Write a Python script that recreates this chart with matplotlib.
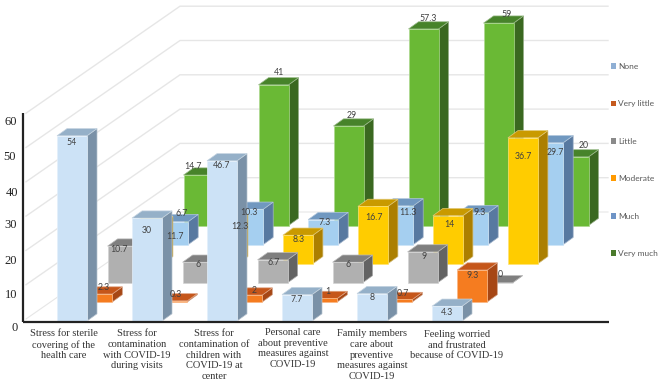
"""Oblique 3D-style clustered bars of stress responses, drawn on a pixel-sized 2D axes."""
import matplotlib
matplotlib.use("Agg")
import matplotlib.pyplot as plt
from matplotlib.colors import to_rgb
from matplotlib.patches import Patch

# -- data ---------------------------------------------------------------
categories = [
    "Stress for sterile\ncovering of the\nhealth care",
    "Stress for\ncontamination\nwith COVID-19\nduring visits",
    "Stress for\ncontamination of\nchildren with\nCOVID-19 at\ncenter",
    "Personal care\nabout preventive\nmeasures against\nCOVID-19",
    "Family members\ncare about\npreventive\nmeasures against\nCOVID-19",
    "Feeling worried\nand frustrated\nbecause of COVID-19",
]
series_names = ["None", "Very little", "Little", "Moderate", "Much", "Very much"]
none = [54, 30, 46.7, 7.7, 8, 4.3]
very_little = [2.3, 0.3, 2, 1, 0.7, 9.3]
little = [10.7, 6, 6.7, 6, 9, 0]
moderate = [11.7, 12.3, 8.3, 16.7, 14, 36.7]
much = [6.7, 10.3, 7.3, 11.3, 9.3, 29.7]
very_much = [14.7, 41, 29, 57.3, 59, 20]
series = [none, very_little, little, moderate, much, very_much]
y_ticks = [0, 10, 20, 30, 40, 50, 60]

# -- styling ------------------------------------------------------------
# (front, top, side) per series
shades = [
    ("#cce2f6", "#95b0c8", "#7a91a7"),
    ("#f57c20", "#c5561a", "#a64715"),
    ("#b0b0b0", "#7f7f7f", "#636363"),
    ("#ffcc00", "#c99a00", "#ac7f00"),
    ("#a5cff0", "#7098c0", "#5879a0"),
    ("#6ab935", "#47832a", "#3a6820"),
]
legend_colors = ["#8fafd4", "#c55a1e", "#8a8a8a", "#ff9a00", "#6e94c6", "#4a7a2c"]
SERIF = "Liberation Serif"
LABEL_GRAY = "#404040"

# hand-moved data labels: (dx, dy) from the top centre of each front face
label_nudge = [
    [(0, 7), (0, 12), (0, 5), (0, 5), (0, 4), (0, 6)],
    [(6, -7), (4, -6), (7, -5), (5, -7), (6, -6), (0, 5)],
    [(-4, 3), (0, 2), (1, 3), (0, 2), (1, 5), (3, -8)],
    [(27, 13), (17, 5), (1, 4), (1, 11), (1, 9), (0, 19)],
    [(8, -8), (1, 3), (1, 3), (10, 7), (6, 0), (7, 10)],
    [(-6, -9), (5, -12), (3, -11), (5, -10), (8, -9), (10, -11)],
]
tick_nudge = [(15, 328), (11, 295), (11, 261), (11, 225), (12, 193), (10, 157), (11, 122)]
cat_label_x = [64, 137, 214, 293, 372, 457]
cat_label_y = [329, 329, 329, 328, 329, 330]

# -- projection (pixels) ------------------------------------------------
X0, Y0 = 23, 321        # front-left floor corner
CAT_STEP = 75
CAT_START = 34          # first bar, from X0
BAR_W = 30
UNIT = 3.43             # pixels per value unit
ROW_DX, ROW_DY = 25.3, -19.1   # shift per series going backwards
BAR_DX, BAR_DY = 10, -7.2      # bar depth
WALL_DX, WALL_DY = 157, -109
WALL_END = 608


def corner(cat, row, value=0):
    """Front-left corner of a bar, in pixels."""
    x = X0 + CAT_START + cat * CAT_STEP + row * ROW_DX
    y = Y0 + row * ROW_DY - value * UNIT
    return x, y


def tint(color, amount=0.45):
    """Lighter version of a colour, for the soft bar outline."""
    return tuple(c + (1 - c) * amount for c in to_rgb(color))


fig = plt.figure(figsize=(6.62, 3.89), dpi=100)
ax = fig.add_axes([0, 0, 1, 1])
ax.set_xlim(0, 662)
ax.set_ylim(389, 0)
ax.axis("off")

# walls
for v in y_ticks:
    y = Y0 - v * UNIT
    ax.plot([X0 + 3, X0 + WALL_DX, WALL_END], [y - 2, y + WALL_DY, y + WALL_DY],
            color="#e6e6e6", lw=1.0 if v else 0.8, solid_joinstyle="miter", zorder=1)

# bars, back row first so nearer ones cover them
z = 2
for row in range(len(series) - 1, -1, -1):
    front, top, side = shades[row]
    for cat, value in enumerate(series[row]):
        x, y = corner(cat, row, value)
        h = value * UNIT
        r = x + BAR_W
        ax.fill([r, r + BAR_DX, r + BAR_DX, r], [y, y + BAR_DY, y + BAR_DY + h, y + h],
                facecolor=side, edgecolor=tint(side), lw=0.5, zorder=z)
        ax.fill([x, r, r + BAR_DX, x + BAR_DX], [y, y, y + BAR_DY, y + BAR_DY],
                facecolor=top, edgecolor=tint(top), lw=0.5, zorder=z)
        ax.fill([x, r, r, x], [y, y, y + h, y + h], facecolor=front, edgecolor=tint(front),
                lw=0.5, zorder=z)
        z += 1

# data labels stay above all bars
for row, values in enumerate(series):
    for cat, value in enumerate(values):
        x, y = corner(cat, row, value)
        dx, dy = label_nudge[row][cat]
        ax.text(x + BAR_W / 2 + dx, y + dy, f"{value:g}", ha="center", va="center",
                fontsize=6.3, family="Lato", color=LABEL_GRAY, zorder=500)

# axes lines and labels
ax.plot([X0, X0], [113, Y0 + 1], color="#222222", lw=1.6, zorder=400, solid_capstyle="butt")
ax.plot([X0, WALL_END + 1], [Y0 + 1, Y0 + 1], color="#222222", lw=1.6, zorder=400,
        solid_capstyle="butt")
for v, (tx, ty) in zip(y_ticks, tick_nudge):
    ax.text(tx, ty, str(v), ha="center", va="center", fontsize=9, family=SERIF, color="#222222")
for x, y, name in zip(cat_label_x, cat_label_y, categories):
    ax.text(x, y, name, ha="center", va="top", fontsize=7.5, family=SERIF, color="#333333",
            linespacing=1.25)

handles = [Patch(facecolor=c, label=n) for c, n in zip(legend_colors, series_names)]
ax.legend(handles=handles, loc="upper left", bbox_to_anchor=(610.5 / 662, 1 - 63 / 389),
          frameon=False, prop={"family": "Lato", "size": 6}, labelcolor="#595959",
          handlelength=0.7, handleheight=0.7, handletextpad=0.25, labelspacing=3.65,
          borderpad=0, borderaxespad=0)

fig.savefig("out.png", dpi=100, facecolor="white")
